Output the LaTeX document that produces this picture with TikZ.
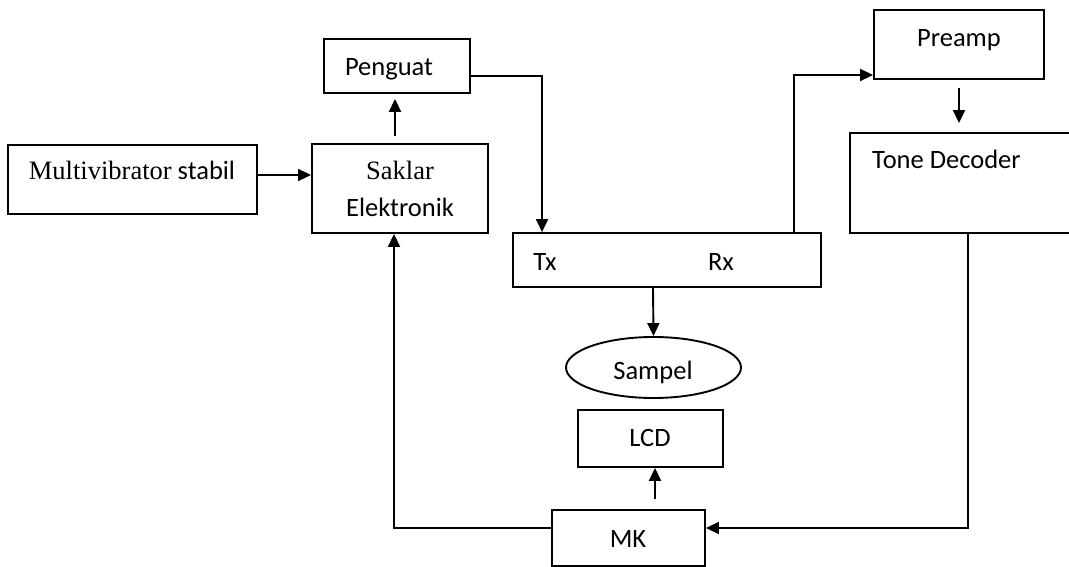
\documentclass[tikz,border=0pt]{standalone}
\usepackage{fontspec}
\setmainfont{Carlito}
\newfontfamily\serifA{Liberation Serif}
\usetikzlibrary{arrows.meta,shapes.geometric}
\begin{document}
\begin{tikzpicture}[x=1pt,y=-1pt,
  box/.style={draw,line width=1.9pt,rectangle,inner sep=0pt},
  txt/.style={anchor=base,inner sep=0pt,font=\fontsize{26.5}{30}\selectfont},
  arr/.style={line width=1.9pt,-{Triangle[length=13pt,width=12pt]}},
  ln/.style={line width=1.9pt}]
\useasboundingbox (0,0) rectangle (1069,567);
% boxes
\node[box,minimum width=249pt,minimum height=69pt] (multi) at (132.5,179.5) {};
\node[box,minimum width=176pt,minimum height=89pt] (saklar) at (400,188.5) {};
\node[box,minimum width=146pt,minimum height=54pt] (penguat) at (397,66) {};
\node[box,minimum width=308pt,minimum height=54pt] (txrx) at (667,260) {};
\node[box,minimum width=170pt,minimum height=69pt] (preamp) at (959,44.5) {};
\node[box,minimum width=226pt,minimum height=100pt] (tone) at (963,183) {};
\node[box,ellipse,minimum width=175pt,minimum height=61pt] (sampel) at (653.5,367.5) {};
\node[box,minimum width=145pt,minimum height=57pt] (lcd) at (650.5,438.5) {};
\node[box,minimum width=153pt,minimum height=56pt] (mk) at (628.5,538) {};
% texts
\node[txt] (tmulti) at (132,179) {{\serifA Multivibrator} stabil};
\node[txt] (tsak1) at (400,179) {\serifA Saklar};
\node[txt] (tsak2) at (400,217) {Elektronik};
\node[txt] (tpeng) at (389,76) {Penguat};
\node[txt] (ttx) at (545,270) {Tx};
\node[txt] (trx) at (721,270) {Rx};
\node[txt] (tpre) at (959,47) {Preamp};
\node[txt,anchor=base west] (ttone) at (872,169) {Tone Decoder};
\node[txt] (tsam) at (653,379) {Sampel};
\node[txt] (tlcd) at (650,446) {LCD};
\node[txt] (tmk) at (628,547) {MK};
% connectors
\draw[arr] ([yshift=4.5pt]multi.east) -- ([yshift=4.5pt]multi.east -| saklar.west);
\draw[arr] ([xshift=-5pt,yshift=7pt]saklar.north) -- ([xshift=-5pt,yshift=-5pt]saklar.north |- penguat.south);
\draw[arr] ([yshift=-10pt]penguat.east) -| ([xshift=30pt]txrx.north west);
\draw[arr] ([xshift=-28pt]txrx.north east) |- ([yshift=-30.5pt]preamp.west);
\draw[arr] ([yshift=-8pt]preamp.south) -- ([yshift=9pt]preamp.south |- tone.north);
\draw[arr] ([xshift=-14pt]txrx.south) -- (sampel.north);
\draw[arr] ([xshift=26.5pt,yshift=10pt]mk.north) -- ([xshift=26.5pt]mk.north |- lcd.south);
\draw[arr] ([xshift=5pt]tone.south) |- ([yshift=10pt]mk.east);
\draw[arr] ([yshift=10pt]mk.west) -| ([xshift=-6pt]saklar.south);
\end{tikzpicture}
\end{document}
